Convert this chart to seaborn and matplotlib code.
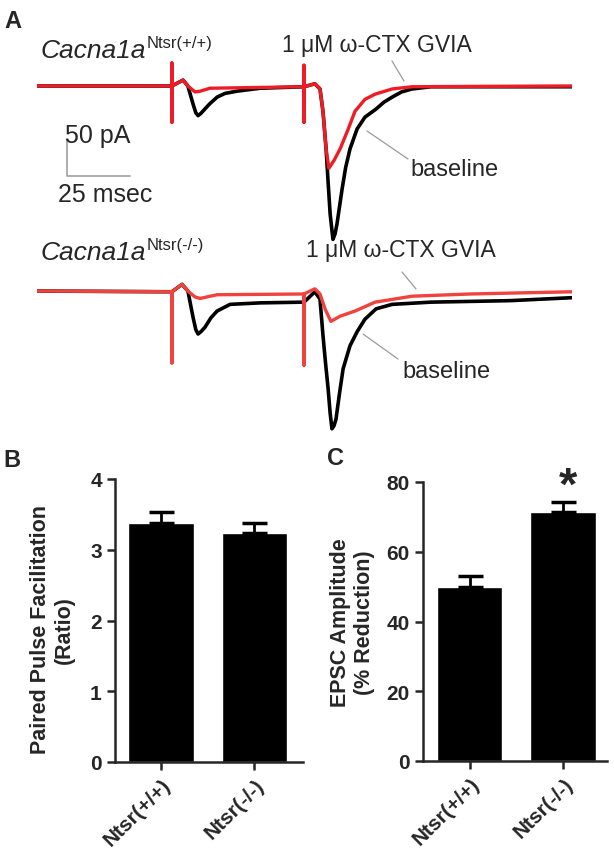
import numpy as np
import pandas as pd
import matplotlib
matplotlib.use("Agg")
import matplotlib.pyplot as plt
import seaborn as sns
from matplotlib.lines import Line2D

# --- panel A traces (time in ms, current in pA)
wt_base_t = [0, 53.1, 57.5, 59.4, 61.4, 62.5, 63.4, 64.5, 66.1, 68.0, 70.9, 74.0, 78.7, 87.8,
             105.1, 109.4, 111.4, 112.6, 113.8, 114.6, 115.4, 116.5, 117.3, 118.1, 120.1, 121.5,
             123.2, 126.0, 129.1, 133.5, 136.5, 139.8, 143.5, 147.6, 155.1, 210.6]
wt_base_i = [0, 0, 8, 0, -24, -36, -40, -37, -31, -24, -15, -10, -7, -3,
             -1, 3, -4, -35, -85, -130, -173, -207, -200, -186, -139, -110,
             -85, -58, -42, -31, -22, -15, -8, -4, -1, -1]
wt_ctx_t = [0, 53.1, 53.1, 53.1, 53.1, 57.5, 59.4, 62.2, 64.2, 68.1, 105.1, 105.1, 105.1, 105.1,
            109.4, 111.4, 112.6, 113.8, 114.9, 117.0, 119.3, 122.4, 125.2, 129.1, 133.1, 139.8, 147.6, 210.6]
wt_ctx_i = [0, 0, 31, -49, 0, 8, 0, -8, -7, -3, -1, 28, -49, -1,
            3, -4, -35, -85, -111, -100, -85, -59, -34, -18, -11, -4, -1, 0]

ko_base_t = [0, 53.1, 57.1, 59.4, 61.4, 62.5, 63.4, 64.5, 66.1, 68.5, 70.9, 76.0, 87.8, 105.1,
             109.4, 111.4, 112.6, 113.6, 114.6, 115.4, 116.1, 116.9, 117.7, 119.0, 120.5, 123.2,
             126.0, 129.1, 133.5, 139.8, 155.1, 186.2, 210.6]
ko_base_i = [0, -1, 9, 0, -35, -52, -58, -55, -49, -36, -27, -18, -16, -15,
             -1, -11, -61, -98, -132, -165, -186, -182, -173, -140, -105, -74,
             -55, -38, -24, -18, -15, -13, -9]
ko_ctx_t = [0, 53.1, 53.1, 53.1, 57.1, 59.4, 62.2, 64.2, 70.9, 105.1, 105.1, 105.1,
            109.4, 111.4, 113.5, 115.7, 119.3, 125.2, 133.1, 147.6, 170.5, 210.6]
ko_ctx_i = [0, -1, -97, -1, 9, 0, -8, -10, -5, -4, -100, -4,
            3, -4, -25, -41, -34, -27, -15, -7, -4, -1]

scale_t0, scale_i0 = 11.8, -122   # corner of scale bar
scale_ms, scale_pa = 25, 50

# --- panels B and C
groups = ["Ntsr(+/+)", "Ntsr(-/-)"]
ppf_mean = [3.38, 3.23]
ppf_sem = [0.16, 0.15]
epsc_mean = [49.8, 71.4]
epsc_sem = [3.3, 2.9]

sns.set_style("ticks")
plt.rcParams["font.family"] = ["Liberation Sans", "DejaVu Sans"]

W, H = 614, 853
fig = plt.figure(figsize=(W / 100, H / 100), dpi=100)


def box(l, t, r, b):
    return [l / W, 1 - b / H, (r - l) / W, (b - t) / H]


def ftext(x, y, s, **kw):
    kw.setdefault("va", "baseline")
    kw.setdefault("ha", "left")
    return fig.text(x / W, 1 - y / H, s, **kw)


def leader(x1, y1, x2, y2):
    fig.add_artist(Line2D([x1 / W, x2 / W], [1 - y1 / H, 1 - y2 / H],
                          transform=fig.transFigure, color="#9a9a9a", lw=0.9))


red1 = "#ee1c25"
red2 = "#f0433e"

# top traces (wild type)
axA1 = fig.add_axes(box(37, 55, 572, 250))
sns.lineplot(x=wt_base_t, y=wt_base_i, sort=False, estimator=None, color="black", lw=2.6, ax=axA1)
sns.lineplot(x=wt_ctx_t, y=wt_ctx_i, sort=False, estimator=None, color=red1, lw=2.4, ax=axA1)
axA1.set_xlim(0, 210.6)
axA1.set_ylim(-220, 43.2)
axA1.plot([scale_t0, scale_t0, scale_t0 + scale_ms],
          [scale_i0 + scale_pa, scale_i0, scale_i0], color="#a0a0a0", lw=1.2)
axA1.axis("off")

# bottom traces (knockout)
axA2 = fig.add_axes(box(37, 255, 572, 440))
sns.lineplot(x=ko_base_t, y=ko_base_i, sort=False, estimator=None, color="black", lw=2.6, ax=axA2)
sns.lineplot(x=ko_ctx_t, y=ko_ctx_i, sort=False, estimator=None, color=red2, lw=2.4, ax=axA2)
axA2.set_xlim(0, 210.6)
axA2.set_ylim(-199.8, 50)
axA2.axis("off")

# panel A text
ftext(4, 28, "A", fontsize=17, fontweight="bold")
for y, geno, ax in [(58, "Ntsr(+/+)", axA1), (260, "Ntsr(-/-)", axA2)]:
    t = ftext(41, y, "Cacna1a", fontsize=19, style="italic")
    ax.annotate(geno, xy=(1, 1), xycoords=t, xytext=(0.5, 2), textcoords="offset points",
                ha="left", va="top", fontsize=12)
ftext(282, 52, "1 \u03bcM \u03c9-CTX GVIA", fontsize=16.5)
ftext(306, 257, "1 \u03bcM \u03c9-CTX GVIA", fontsize=16.5)
ftext(410, 176, "baseline", fontsize=17)
ftext(402, 378, "baseline", fontsize=17)
ftext(65, 143, "50 pA", fontsize=18)
ftext(58, 202, "25 msec", fontsize=18)
leader(392, 62, 404, 82)
leader(367, 132, 408, 160)
leader(402, 273, 416, 290)
leader(363, 335, 398, 360)


def bar_panel(ax, means, sems, ymax, step, xlim):
    sns.barplot(x=groups, y=means, color="black", saturation=1, width=0.7, ax=ax)
    ax.errorbar(range(len(means)), means, yerr=[np.zeros(len(sems)), sems], fmt="none",
                ecolor="black", elinewidth=2, capsize=9, capthick=2.5, zorder=3)
    ax.set_ylim(0, ymax)
    ax.set_yticks(np.arange(0, ymax + step / 2, step))
    ax.set_xlim(*xlim)
    sns.despine(ax=ax)
    for s in ["left", "bottom"]:
        ax.spines[s].set_linewidth(1.8)
    ax.tick_params(width=1.8, length=6, labelsize=15)
    for lab in ax.get_yticklabels():
        lab.set_fontweight("bold")
    ax.set_xticks(range(len(groups)))
    ax.set_xticklabels(groups, rotation=45, ha="right", rotation_mode="anchor",
                       fontweight="bold", fontsize=15)


axB = fig.add_axes(box(115, 480, 303, 763))
bar_panel(axB, ppf_mean, ppf_sem, 4, 1, (-0.49, 1.52))
axB.set_ylabel("Paired Pulse Facilitation\n(Ratio)", fontsize=15.5, fontweight="bold")
axB.yaxis.set_label_coords(-0.213, 0.47)
ftext(3, 467, "B", fontsize=17, fontweight="bold")

axC = fig.add_axes(box(423, 483, 607, 762))
bar_panel(axC, epsc_mean, epsc_sem, 80, 20, (-0.50, 1.47))
axC.set_ylabel("EPSC Amplitude\n(% Reduction)", fontsize=15.5, fontweight="bold")
axC.yaxis.set_label_coords(-0.26, 0.5)
ftext(327, 465, "C", fontsize=17, fontweight="bold")
ftext(568, 500, "*", fontsize=34, fontweight="bold", ha="center")

fig.savefig("out.png", dpi=100)
